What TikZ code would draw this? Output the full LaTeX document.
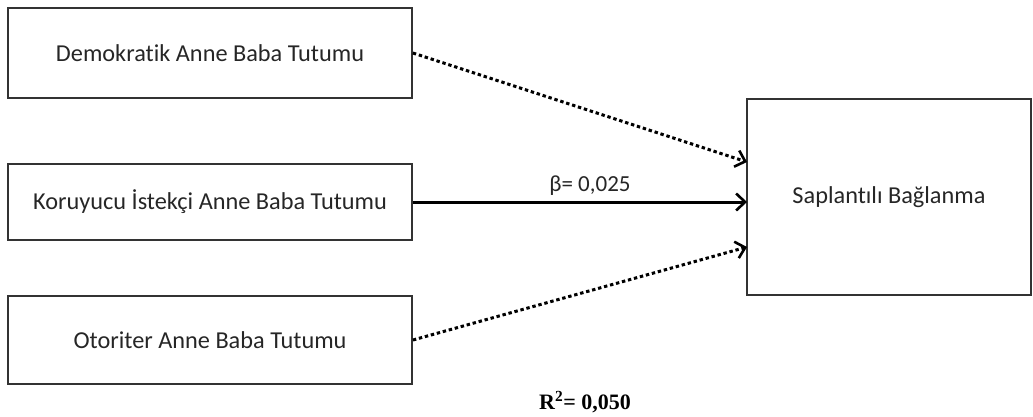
\documentclass[tikz,border=0pt]{standalone}
\usepackage{fontspec}
\setmainfont{Carlito}[Ligatures=NoCommon]
\newfontfamily\timesf{Liberation Serif}
\usetikzlibrary{arrows.meta}
\begin{document}
\begin{tikzpicture}[x=1pt,y=-1pt,
  boxs/.style={draw=black!80,line width=1.8pt,inner sep=0pt,font=\fontsize{24.3}{28}\selectfont,text=black!85},
  conn/.style={line width=3pt,-{Straight Barb[length=9pt,width=17pt,line width=2.6pt]}},
  dots/.style={conn,dash pattern=on 3.4pt off 2.8pt}]
\useasboundingbox (0,0) rectangle (1033,416);
\node[boxs,minimum width=404pt,minimum height=90pt] (d) at (210,53) {Demokratik Anne Baba Tutumu};
\node[boxs,minimum width=404pt,minimum height=76pt] (k) at (210,202) {Koruyucu İstekçi Anne Baba Tutumu};
\node[boxs,minimum width=404pt,minimum height=88pt] (o) at (210,340) {Otoriter Anne Baba Tutumu};
\node[boxs,minimum width=284pt,minimum height=196pt] (s) at (889,197) {Saplantılı Bağlanma};
\coordinate (t1) at (747,162);
\coordinate (t2) at (747,202);
\coordinate (t3) at (747,247);
\draw[dots] (d.east) -- (t1);
\draw[conn] (k.east) -- node[above=2pt,xshift=10pt,font=\fontsize{23}{27}\selectfont,text=black!85] (b) {β= 0,025} (t2);
\draw[dots] (o.east) -- (t3);
\node[font=\timesf\bfseries\fontsize{22}{26}\selectfont] (r) at (585,402) {R\textsuperscript{2}= 0,050};
\end{tikzpicture}
\end{document}
